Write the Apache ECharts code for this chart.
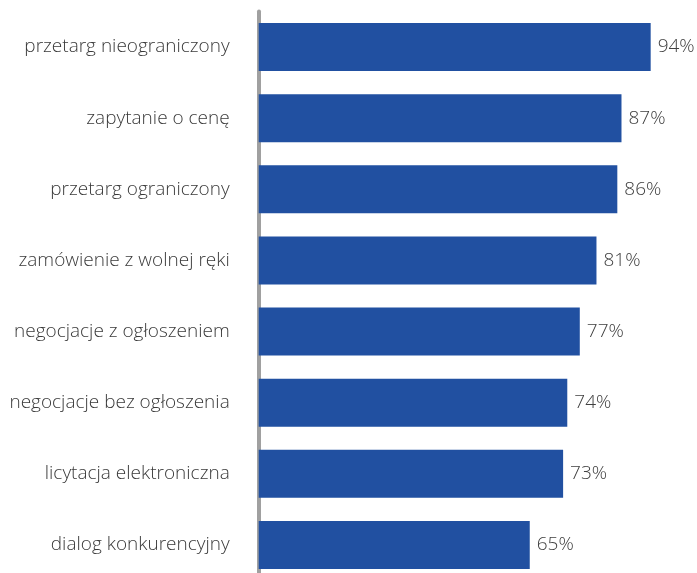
<!DOCTYPE html>
<html>
<head>
<meta charset="utf-8">
<style>
  html, body { margin: 0; padding: 0; background: #ffffff; }
  #chart { width: 697px; height: 573px; }
</style>
<script src="https://cdn.jsdelivr.net/npm/echarts@6/dist/echarts.min.js"></script>
</head>
<body>
<div id="chart"></div>
<script>
// Procurement modes, top to bottom
const categories = [
  'przetarg nieograniczony',
  'zapytanie o cenę',
  'przetarg ograniczony',
  'zamówienie z wolnej ręki',
  'negocjacje z ogłoszeniem',
  'negocjacje bez ogłoszenia',
  'licytacja elektroniczna',
  'dialog konkurencyjny'
];
// Share of respondents (%)
const values = [94, 87, 86, 81, 77, 74, 73, 65];

const chart = echarts.init(document.getElementById('chart'), null, { renderer: 'canvas' });

const textFont = '"Open Sans", "Noto Sans", sans-serif';

chart.setOption({
  animation: false,
  backgroundColor: '#ffffff',
  grid: {
    left: 258.7, top: 11.5, width: 417, height: 569,
    containLabel: false,
    outerBoundsMode: 'none'
  },
  xAxis: {
    type: 'value',
    min: 0,
    max: 100,
    show: false
  },
  yAxis: {
    type: 'category',
    data: categories,
    inverse: true,
    offset: 2,
    axisLine: { show: true, lineStyle: { color: '#a0a0a0', width: 4 } },
    axisTick: { show: false },
    axisLabel: {
      margin: 27,
      color: '#3a3a3a',
      fontSize: 19,
      fontWeight: 300,
      fontFamily: textFont
    }
  },
  series: [{
    type: 'bar',
    data: values,
    barWidth: 48,
    itemStyle: { color: '#2150a1' },
    label: {
      show: true,
      position: 'right',
      distance: 7,
      formatter: '{c}%',
      color: '#404040',
      fontSize: 19,
      fontWeight: 300,
      fontFamily: textFont
    }
  }]
});
</script>
</body>
</html>
